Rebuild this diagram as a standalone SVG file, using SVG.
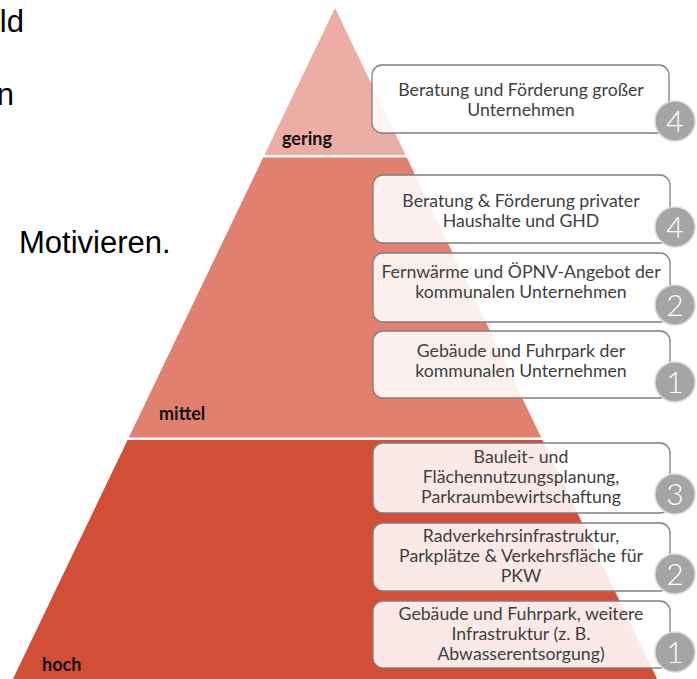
<svg xmlns="http://www.w3.org/2000/svg" width="697" height="679" viewBox="0 0 697 679">
<style>
.side{font-family:"Liberation Sans",Arial,sans-serif;font-size:31px;fill:#000}
.tier{font-family:Lato,"Open Sans",sans-serif;font-weight:bold;font-size:18px;fill:#111}
.box{fill:#fff;fill-opacity:0.88;stroke:#7f7f7f;stroke-width:1.3}
.bt{font-family:Lato,"Open Sans",sans-serif;font-size:17.7px;fill:#404040;text-anchor:middle}
.badge{fill:#a5a5a5;stroke:#d9d9d9;stroke-width:1.5}
.num{font-family:Lato,"Open Sans",sans-serif;font-weight:300;font-size:30px;fill:#fff;text-anchor:middle}
</style>
<rect width="697" height="679" fill="#fff"/>
<text class="side" x="24" y="32" text-anchor="end">ld</text>
<text class="side" x="14" y="105" text-anchor="end">n</text>
<text class="side" x="19" y="253">Motivieren.</text>
<g id="pyramid">
<polygon points="335,8 405.6,155 264.4,155" fill="#ecada4"/>
<polygon points="263.2,157.5 406.8,157.5 541.2,437.5 128.8,437.5" fill="#e28070"/>
<polygon points="127.6,440 542.4,440 657.6,680 12.4,680" fill="#d34e36"/>
<text class="tier" x="282" y="145">gering</text>
<text class="tier" x="159" y="420">mittel</text>
<text class="tier" x="42" y="671">hoch</text>
</g>
<g id="n1"><rect class="box" x="372" y="65" width="297" height="68" rx="10"/>
<text class="bt" x="521" y="96">Beratung und Förderung großer</text><text class="bt" x="521" y="116">Unternehmen</text>
<circle class="badge" cx="675" cy="121" r="20"/><text class="num" x="675" y="131.5">4</text></g>
<g id="n2"><rect class="box" x="373" y="175" width="297" height="68" rx="10"/>
<text class="bt" x="521" y="207">Beratung &amp; Förderung privater</text><text class="bt" x="521" y="227">Haushalte und GHD</text>
<circle class="badge" cx="675" cy="227" r="20"/><text class="num" x="675" y="237.5">4</text></g>
<g id="n3"><rect class="box" x="373" y="253" width="297" height="69" rx="10"/>
<text class="bt" x="521" y="278">Fernwärme und ÖPNV-Angebot der</text><text class="bt" x="521" y="298">kommunalen Unternehmen</text>
<circle class="badge" cx="675" cy="305" r="20"/><text class="num" x="675" y="315.5">2</text></g>
<g id="n4"><rect class="box" x="373" y="331" width="297" height="67" rx="10"/>
<text class="bt" x="521" y="357">Gebäude und Fuhrpark der</text><text class="bt" x="521" y="377">kommunalen Unternehmen</text>
<circle class="badge" cx="675" cy="382" r="20"/><text class="num" x="675" y="392.5">1</text></g>
<g id="n5"><rect class="box" x="373" y="443" width="297" height="70" rx="10"/>
<text class="bt" x="521" y="463">Bauleit- und</text><text class="bt" x="521" y="483">Flächennutzungsplanung,</text><text class="bt" x="521" y="503">Parkraumbewirtschaftung</text>
<circle class="badge" cx="675" cy="494" r="20"/><text class="num" x="675" y="504.5">3</text></g>
<g id="n6"><rect class="box" x="373" y="523" width="297" height="68" rx="10"/>
<text class="bt" x="521" y="542">Radverkehrsinfrastruktur,</text><text class="bt" x="521" y="562">Parkplätze &amp; Verkehrsfläche für</text><text class="bt" x="521" y="582">PKW</text>
<circle class="badge" cx="675" cy="574" r="20"/><text class="num" x="675" y="584.5">2</text></g>
<g id="n7"><rect class="box" x="373" y="601" width="297" height="67" rx="10"/>
<text class="bt" x="521" y="620">Gebäude und Fuhrpark, weitere</text><text class="bt" x="521" y="640">Infrastruktur (z. B.</text><text class="bt" x="521" y="660">Abwasserentsorgung)</text>
<circle class="badge" cx="675" cy="652" r="20"/><text class="num" x="675" y="662.5">1</text></g>
</svg>
